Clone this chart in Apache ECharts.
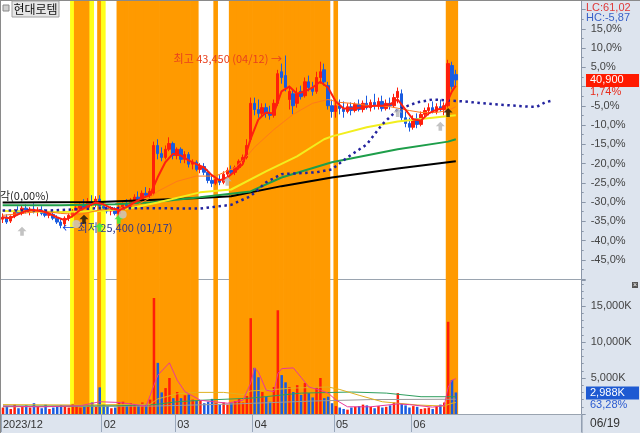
<!DOCTYPE html>
<html><head><meta charset="utf-8">
<script src="https://cdn.jsdelivr.net/npm/echarts@6/dist/echarts.min.js"></script>
<style>html,body{margin:0;padding:0;background:#fff}#c{width:640px;height:433px}</style>
</head><body><div id="c"></div>
<script>
// ---------------- DATA ----------------
const stockName = '현대로템';
const basePrice = 40200; // previous close = 0% of the axis
const dates = [
'2023/12/22','2023/12/26','2023/12/27','2023/12/28',
'2024/01/02','2024/01/03','2024/01/04','2024/01/05','2024/01/08','2024/01/09','2024/01/10','2024/01/11','2024/01/12','2024/01/15','2024/01/16','2024/01/17','2024/01/18','2024/01/19','2024/01/22','2024/01/23','2024/01/24','2024/01/25','2024/01/26','2024/01/29','2024/01/30','2024/01/31',
'2024/02/01','2024/02/02','2024/02/05','2024/02/06','2024/02/07','2024/02/08','2024/02/13','2024/02/14','2024/02/15','2024/02/16','2024/02/19','2024/02/20','2024/02/21','2024/02/22','2024/02/23','2024/02/26','2024/02/27','2024/02/28','2024/02/29',
'2024/03/04','2024/03/05','2024/03/06','2024/03/07','2024/03/08','2024/03/11','2024/03/12','2024/03/13','2024/03/14','2024/03/15','2024/03/18','2024/03/19','2024/03/20','2024/03/21','2024/03/22','2024/03/25','2024/03/26','2024/03/27','2024/03/28','2024/03/29',
'2024/04/01','2024/04/02','2024/04/03','2024/04/04','2024/04/05','2024/04/08','2024/04/09','2024/04/11','2024/04/12','2024/04/15','2024/04/16','2024/04/17','2024/04/18','2024/04/19','2024/04/22','2024/04/23','2024/04/24','2024/04/25','2024/04/26','2024/04/29','2024/04/30',
'2024/05/02','2024/05/03','2024/05/07','2024/05/08','2024/05/09','2024/05/10','2024/05/13','2024/05/14','2024/05/16','2024/05/17','2024/05/20','2024/05/21','2024/05/22','2024/05/23','2024/05/24','2024/05/27','2024/05/28','2024/05/29','2024/05/30','2024/05/31',
'2024/06/03','2024/06/04','2024/06/05','2024/06/07','2024/06/10','2024/06/11','2024/06/12','2024/06/13','2024/06/14','2024/06/17','2024/06/18','2024/06/19'
];
const futureSlots = 32;
const monthTicks = ['2023/12/22','2024/02/01','2024/03/04','2024/04/01','2024/05/02','2024/06/03'];
const monthTickText = ['2023/12','02','03','04','05','06'];

const openP = [
26350,26550,26150,26650,27200,26950,27500,27200,27400,27100,
27300,26950,26750,26850,26450,26050,25850,26450,26750,27200,
27500,27800,27600,28200,27900,28450,27700,27500,27200,27400,
26950,27600,27900,27700,28350,28650,28450,29050,28850,29050,
34050,33200,32800,33650,34250,33000,33650,32600,33100,32100,
32300,31550,31850,31250,30400,30100,30500,30200,31050,31450,
31250,31750,32400,32800,34700,38450,37800,37400,38000,37400,
37200,38450,41750,41350,38850,39450,38450,39700,39250,40700,
40100,39700,41150,41950,40300,38200,37600,38200,37900,37600,
38100,37700,38350,37800,38450,38000,38550,38200,38650,37900,
38450,38200,39050,39450,36950,36350,35950,36850,36250,37300,
37700,38000,37600,38100,37800,38200,42400,41450];
const highP = [
26950,26850,26750,27400,27700,27800,27900,27600,28000,27600,
27700,27400,27200,27100,26750,26350,26650,26950,27400,27700,
28000,28450,28550,28850,28750,28850,28100,27900,27700,27600,
27800,28100,28450,28550,28950,29250,29350,29700,29600,34450,
34700,33850,34050,34900,34450,33850,33850,33450,33350,32600,
32500,32200,32200,31550,30950,30700,30950,31350,31750,31950,
31950,32600,33100,34700,39050,39050,38850,38450,38450,38200,
38850,41950,42600,43450,40300,39900,40100,40300,41150,41350,
40700,41750,42800,42600,40700,38850,38650,38850,38650,38450,
38550,38550,38850,38750,39250,38850,39450,39050,39250,38850,
39050,39450,40100,39900,37600,36950,37200,37400,37600,38000,
38450,38650,38450,38850,38550,43000,42800,41950];
const lowP = [
25950,25850,25950,26450,26750,26750,26950,26750,26950,26650,
26750,26550,26450,26250,25850,25400,25600,26150,26550,26950,
27200,27400,27400,27700,27600,27400,27200,26950,26750,26750,
26750,27300,27500,27500,28000,28200,28200,28650,28550,28850,
32600,32400,32600,33450,32600,32600,32200,32200,31750,31550,
31350,31150,30950,30100,29700,29900,29900,30000,30700,31050,
30950,31550,31950,32600,34450,37200,36950,37100,36950,36750,
36950,38200,40500,39700,37800,37300,38000,38850,39050,39700,
39250,39450,40500,40300,37800,36950,36950,37300,36950,37400,
37200,37500,37600,37500,37800,37600,37800,37800,37600,37700,
37800,38000,38450,36550,35950,35500,35700,35850,36050,36950,
37200,37400,37300,37600,37200,38000,39900,40100];
const closeP = [
26550,26050,26650,27200,26950,27500,27200,27400,27100,27300,
26950,26750,26850,26450,26050,25700,26450,26750,27200,27500,
27800,27600,28200,27900,28450,27700,27500,27200,27400,26950,
27600,27900,27700,28350,28650,28450,29050,28850,29250,34050,
33200,32800,33650,34250,33000,33650,32600,33100,32100,32300,
31550,31850,31250,30400,30100,30500,30200,31050,31450,31250,
31750,32400,32800,34050,38450,37800,37400,38000,37400,37200,
38450,41550,41150,40100,39700,38200,39450,39150,40700,40100,
39700,41150,41750,40700,38200,37600,38200,37900,37600,38100,
37700,38350,37800,38450,38000,38550,38200,38650,37900,38450,
38200,39050,39700,36950,36350,35950,36850,36250,37300,37700,
38000,37600,38100,37800,38200,42600,40200,40900];
// volume in thousands of shares (K)
const volumeK = [
900,1100,700,1300,800,1000,1200,900,1500,1100,
800,1300,700,900,1000,1200,1100,900,1400,1100,
900,1000,1200,1600,1000,3700,1300,1100,800,900,
1600,1700,1200,1500,1300,1200,1600,1400,2000,16100,
7100,3000,3600,5000,2200,3050,2200,2600,2700,2000,
1800,1900,1500,1700,2100,1500,1300,1600,1300,1500,
1800,2100,1600,2500,13300,6400,5100,3050,2400,1700,
3750,14400,5400,4400,3750,3050,4000,2650,4300,2900,
2300,3750,5000,2200,2400,1500,1100,900,700,600,
900,1000,1100,1300,1200,1000,800,1100,900,1000,
1200,1600,2900,1400,1200,900,1100,1000,700,800,
900,700,1000,1300,1600,12800,4722,2988];
// highlighted signal periods: 1 = orange, 2 = yellow edge
const signalBand = [
0,0,0,0,0,0,0,0,0,0, 0,0,0,0,0,0,0,0,2,1,
1,1,1,2,0,1,2,0,0,0, 1,1,1,1,1,1,1,1,1,1,
1,1,1,1,1,1,1,1,1,1, 1,0,0,0,0,1,0,0,0,1,
1,1,1,1,1,1,1,1,1,1, 1,1,1,1,1,1,1,1,1,1,
1,1,1,1,1,0,1,0,0,0, 0,0,0,0,0,0,0,0,0,0,
0,0,0,0,0,0,0,0,0,0, 0,0,0,0,0,1,1,1];
// moving-average lines: [bar index, price]
const ma5Pts = [[0,26550],[2,26450],[4,26850],[6,27200],[8,27300],[10,27200],[12,26950],[14,26550],[16,26250],[18,26650],[20,27300],[22,27700],[24,28100],[26,27900],[28,27500],[30,27300],[32,27600],[34,28100],[36,28550],[38,28850],[40,30700],[42,32300],[44,33200],[46,33000],[48,32500],[50,32100],[52,31750],[54,30950],[56,30400],[58,30700],[60,31350],[62,32100],[64,34700],[66,36750],[68,37500],[70,37400],[72,39700],[74,40200],[76,39450],[78,39700],[80,40100],[82,40700],[84,40100],[86,38650],[88,37900],[90,37900],[92,38000],[94,38100],[96,38200],[98,38200],[100,38350],[102,38850],[104,37800],[106,36750],[108,36650],[110,37400],[112,37800],[114,37900],[116,39700],[117,40300]];
const ma20Pts = [[0,26750],[5,26950],[10,27200],[15,26950],[20,26850],[25,27300],[30,27500],[35,27900],[38,28550],[40,29250],[45,30300],[50,30850],[55,30850],[60,31750],[63,32900],[65,33850],[70,35700],[75,37300],[80,38450],[84,38850],[87,38550],[90,38450],[95,38200],[100,38100],[105,37700],[108,37500],[112,37500],[115,37700],[117,38100]];
const ma60Pts = [[0,27200],[15,27100],[25,27200],[33,27500],[40,28100],[51,29150],[59,29450],[68,31350],[76,32900],[83,34700],[85,35000],[94,35950],[102,36550],[111,36950],[117,37200]];
const ma120Pts = [[0,27800],[15,27800],[29,27900],[38,28100],[51,28650],[64,29250],[72,30700],[85,32300],[102,33650],[115,34450],[117,34700]];
const ma240Pts = [[0,28100],[25,28150],[38,28350],[51,28550],[59,28750],[72,29800],[85,30700],[102,31650],[117,32400]];
const leadSpanPts = [[0,27250],[12,27250],[25,27500],[38,27500],[51,27450],[59,27850],[64,28750],[68,30200],[72,31050],[81,31250],[85,31550],[89,32800],[94,34150],[98,36250],[102,37800],[107,38550],[111,38850],[119,38650],[127,38350],[136,38100],[138,38100],[140,38550],[142,38750]];
// volume moving averages [bar index, K]
const vma5Pts = [[0,1100],[10,1000],[20,1150],[25,1700],[30,1600],[37,1100],[39,4000],[40,5400],[43,7100],[45,4700],[47,3100],[51,1900],[58,1500],[62,1900],[64,4300],[65,6400],[66,5800],[68,3300],[70,3100],[71,5600],[72,6300],[75,6400],[77,5100],[79,3750],[82,3300],[84,2900],[86,1950],[89,1000],[95,1000],[102,1400],[105,1300],[111,950],[114,1200],[115,3700],[116,4700],[117,4900]];
const vma20Pts = [[0,1300],[20,1250],[38,1350],[40,2100],[45,2800],[50,3000],[57,3000],[62,2700],[64,3200],[70,3400],[75,3600],[84,3750],[87,3400],[92,2600],[98,1700],[107,1250],[114,1100],[116,1500],[117,1600]];
const vma60Pts = [[0,1100],[30,1150],[39,1300],[45,1700],[51,1900],[64,2200],[77,2900],[90,3050],[99,2900],[108,2400],[117,2400]];
const vma120Pts = [[0,1000],[39,1100],[60,1400],[80,1800],[95,2000],[117,2050]];
// signal markers: bar index, price, kind
const signalIdx   = [5, 19, 21, 25, 30, 31, 58, 102, 113, 115];
const signalPrice = [25100, 25850, 26350, 25500, 26350, 26850, 30300, 37500, 36050, 37500];
const signalKind  = ['gray','grayc','black','green','green','grayc','gray','gray','gray','black'];

// ---------------- CHART ----------------
const LEFT = 0.7, PLOT_W = 581;
const RED = '#ff1e0a', BLUE = '#1a5ce0';
const cats = dates.concat(Array.from({length: futureSlots}, (_, k) => '+' + (k + 1)));
const last = closeP.length - 1;
const fmtNum = v => v.toLocaleString('en-US');
const fmtDec = (v, d) => v.toFixed(d).replace('.', ',');
const isMonthTick = (idx, val) => monthTicks.indexOf(val) >= 0;

const candles = openP.map((o, i) => [o, closeP[i], lowP[i], highP[i]]);
const volData = volumeK.map((v, i) => ({value: v, itemStyle: {color: closeP[i] >= openP[i] ? RED : BLUE}}));
const bandColor = {1: '#ff9a00', 2: '#ffff1a'};
const bandData = signalBand.map(c => c ? {value: 1, itemStyle: {color: bandColor[c]}} : '-');

let hiIdx = 0, loIdx = 0;
highP.forEach((v, i) => { if (v > highP[hiIdx]) hiIdx = i; });
lowP.forEach((v, i) => { if (v < lowP[loIdx]) loIdx = i; });

const arrowUp = 'path://M5 0 L10 5 L7 5 L7 10 L3 10 L3 5 L0 5 Z';
const markerStyle = {
  gray: {symbol: arrowUp, color: '#b4b4b4'},
  grayc: {symbol: 'circle', color: '#c8c8c8'},
  black: {symbol: arrowUp, color: '#111'},
  green: {symbol: arrowUp, color: '#27f04a'}
};
const markers = signalIdx.map((ix, k) => ({
  value: [ix, signalPrice[k]],
  symbol: markerStyle[signalKind[k]].symbol,
  symbolSize: signalKind[k] === 'grayc' ? 8 : 9,
  itemStyle: {color: markerStyle[signalKind[k]].color}
}));

function pctLabel(v) {
  const p = Math.round((v / basePrice - 1) * 1000) / 10;
  if (Math.abs(p % 5) > 1e-6 || p > 15 || p < -45 || p === 0) return '';
  return fmtDec(p, 1) + '%';
}
function volLabel(v) {
  return (v > 0 && v % 5000 === 0 && v <= 15000) ? fmtNum(v) + 'K' : '';
}

function lineSeries(pts, color, width, xi, yi, extra) {
  return Object.assign({
    type: 'line', xAxisIndex: xi, yAxisIndex: yi, data: pts, showSymbol: false, symbol: 'none',
    lineStyle: {color: color, width: width}, silent: true, z: 3, animation: false
  }, extra || {});
}

const chart = echarts.init(document.getElementById('c'));
chart.setOption({
  animation: false,
  backgroundColor: '#ffffff',
  textStyle: {fontFamily: 'Liberation Sans, Arial, sans-serif'},
  grid: [
    {left: LEFT, width: PLOT_W, top: 0, height: 279},
    {left: LEFT, width: PLOT_W, top: 280, height: 134},
    {left: LEFT, width: PLOT_W, top: 0, height: 414}
  ],
  xAxis: [
    {type: 'category', gridIndex: 0, data: cats, boundaryGap: true,
     axisLine: {show: true, lineStyle: {color: '#9aa4b0'}}, axisTick: {show: false}, axisLabel: {show: false}, splitLine: {show: false}},
    {type: 'category', gridIndex: 1, data: cats, boundaryGap: true,
     axisLine: {show: true, lineStyle: {color: '#9aa4b0'}},
     axisTick: {show: true, interval: isMonthTick, length: 18, lineStyle: {color: '#9aa8bc'}},
     axisLabel: {interval: isMonthTick, formatter: v => monthTickText[monthTicks.indexOf(v)] || '', align: 'left', margin: 5, color: '#333', fontSize: 11},
     splitLine: {show: false}},
    {type: 'category', gridIndex: 2, data: cats, boundaryGap: true, show: false}
  ],
  yAxis: [
    {type: 'value', gridIndex: 0, position: 'right', min: 20100, max: 49245, interval: 2010,
     axisLine: {show: true, lineStyle: {color: '#8a96a8'}},
     axisTick: {show: true, length: 4, lineStyle: {color: '#8a96a8'}},
     minorTick: {show: true, splitNumber: 2, length: 2, lineStyle: {color: '#8a96a8'}},
     splitLine: {show: false},
     axisLabel: {formatter: pctLabel, color: '#444', fontSize: 11, margin: 9}},
    {type: 'value', gridIndex: 1, position: 'right', min: 0, max: 18600, interval: 5000,
     axisLine: {show: true, lineStyle: {color: '#8a96a8'}},
     axisTick: {show: true, length: 4, lineStyle: {color: '#8a96a8'}},
     minorTick: {show: true, splitNumber: 5, length: 2, lineStyle: {color: '#8a96a8'}},
     splitLine: {show: false},
     axisLabel: {formatter: volLabel, color: '#444', fontSize: 11, margin: 9}},
    {type: 'value', gridIndex: 2, min: 0, max: 1, show: false}
  ],
  series: [
    {type: 'bar', xAxisIndex: 2, yAxisIndex: 2, data: bandData, barWidth: 4.6, barGap: '-100%', silent: true, z: 0},
    {type: 'candlestick', xAxisIndex: 0, yAxisIndex: 0, data: candles, barWidth: 3, z: 2,
     itemStyle: {color: RED, color0: BLUE, borderColor: RED, borderColor0: BLUE, borderWidth: 1},
     markPoint: {
       symbol: 'circle', symbolSize: 1, itemStyle: {color: 'rgba(0,0,0,0)'}, silent: true,
       data: [
         {coord: [hiIdx, highP[hiIdx]], label: {show: true, position: 'left', distance: 3, offset: [0, 3],
           formatter: '최고 ' + fmtNum(highP[hiIdx]) + ' (' + dates[hiIdx].slice(5) + ') →',
           color: '#e8401e', fontSize: 11, fontFamily: 'Noto Sans CJK KR'}},
         {coord: [loIdx, lowP[loIdx]], label: {show: true, position: 'right', distance: 1, offset: [0, 0],
           formatter: '{a|←} {b|최저 ' + fmtNum(lowP[loIdx]) + ' (' + dates[loIdx].slice(5) + ')}',
           rich: {a: {color: '#1040e0', fontSize: 12, fontFamily: 'Noto Sans CJK KR'}, b: {color: '#2a3590', fontSize: 11, fontFamily: 'Noto Sans CJK KR'}}}}
       ]
     }},
    lineSeries(ma240Pts, '#000000', 2, 0, 0),
    lineSeries(ma120Pts, '#1e9e4a', 2, 0, 0),
    lineSeries(ma60Pts, '#f2ee1e', 2, 0, 0),
    lineSeries(ma20Pts, '#ff7a1a', 1, 0, 0),
    lineSeries(leadSpanPts, '#23239e', 2.5, 0, 0, {lineStyle: {color: '#23239e', width: 2.5, type: [2.5, 3.5]}}),
    lineSeries(ma5Pts, '#ff2010', 2, 0, 0, {z: 4}),
    {type: 'scatter', xAxisIndex: 0, yAxisIndex: 0, data: markers, z: 5, silent: true},
    {type: 'bar', xAxisIndex: 1, yAxisIndex: 1, data: volData, barWidth: '65%', z: 2},
    lineSeries(vma120Pts, '#9a9a9a', 1, 1, 1),
    lineSeries(vma60Pts, '#2e9e5e', 1, 1, 1),
    lineSeries(vma20Pts, '#e0b020', 1, 1, 1),
    lineSeries(vma5Pts, '#e8389a', 1, 1, 1)
  ]
});

// value boxes on the right axis, placed through the axis scales
const yP = chart.convertToPixel({yAxisIndex: 0}, closeP[last]);
const yV = chart.convertToPixel({yAxisIndex: 1}, volumeK[last]);
const chgPct = (closeP[last] / basePrice - 1) * 100;
const lcPct = (closeP[last] / lowP[loIdx] - 1) * 100;
const hcPct = (closeP[last] / highP[hiIdx] - 1) * 100;
const volPct = volumeK[last] / volumeK[last - 1] * 100;
const panel = '#dde4ee';
const F = 'Liberation Sans, Arial, sans-serif';
chart.setOption({
  graphic: [
    {type: 'rect', z: -100, shape: {x: 582, y: 0, width: 58, height: 415}, style: {fill: panel}},
    {type: 'rect', z: -100, shape: {x: 0, y: 415, width: 640, height: 18}, style: {fill: panel}},
    {type: 'line', z: 50, shape: {x1: 0.5, y1: 0, x2: 0.5, y2: 433}, style: {stroke: '#8a8a8a', lineWidth: 1}},
    {type: 'line', z: 50, shape: {x1: 0, y1: 0.5, x2: 640, y2: 0.5}, style: {stroke: '#8a8a8a', lineWidth: 1}},
    {type: 'line', z: 50, shape: {x1: 582, y1: 415, x2: 582, y2: 433}, style: {stroke: '#8a96a8', lineWidth: 1}},
    {type: 'rect', z: 50, shape: {x: 3, y: 5, width: 6, height: 6}, style: {fill: '#d0d0d0', stroke: '#888', lineWidth: 1}},
    {type: 'rect', z: 50, shape: {x: 12, y: 1, width: 47, height: 16}, style: {fill: '#e6e6e6', stroke: '#a0a0a0', lineWidth: 1}},
    {type: 'text', z: 51, style: {text: stockName, x: 35.5, y: 9.5, align: 'center', verticalAlign: 'middle', fill: '#111', font: '12px "Noto Sans CJK KR"'}},
    {type: 'text', z: 51, style: {text: '각(' + fmtDec(0, 2) + '%)', x: 0, y: 196, align: 'left', verticalAlign: 'middle', fill: '#222', font: '11px "Noto Sans CJK KR"'}},
    {type: 'text', z: 51, style: {text: 'LC:' + fmtDec(lcPct, 2), x: 586, y: 8, verticalAlign: 'middle', fill: '#e03a3a', font: '11px ' + F}},
    {type: 'text', z: 51, style: {text: 'HC:' + fmtDec(hcPct, 2), x: 586, y: 18, verticalAlign: 'middle', fill: '#3a62c8', font: '11px ' + F}},
    {type: 'rect', z: 51, shape: {x: 586, y: yP - 6, width: 53, height: 13}, style: {fill: '#ff1a00'}},
    {type: 'text', z: 52, style: {text: fmtNum(closeP[last]), x: 590, y: yP + 0.5, verticalAlign: 'middle', fill: '#fff', font: '11px ' + F}},
    {type: 'text', z: 52, style: {text: fmtDec(chgPct, 2) + '%', x: 590, y: yP + 12, verticalAlign: 'middle', fill: '#e82a1a', font: '11px ' + F}},
    {type: 'rect', z: 51, shape: {x: 586, y: yV - 6, width: 53, height: 13}, style: {fill: '#1e5ad2'}},
    {type: 'text', z: 52, style: {text: fmtNum(volumeK[last]) + 'K', x: 590, y: yV + 0.5, verticalAlign: 'middle', fill: '#fff', font: '11px ' + F}},
    {type: 'text', z: 52, style: {text: fmtDec(volPct, 2) + '%', x: 590, y: yV + 12, verticalAlign: 'middle', fill: '#2a5ad0', font: '11px ' + F}},
    {type: 'text', z: 52, style: {text: dates[last].slice(5), x: 590, y: 424, verticalAlign: 'middle', fill: '#333', font: '12px ' + F}},
    {type: 'rect', z: 52, shape: {x: 632, y: 282, width: 6, height: 6}, style: {fill: '#555'}},
    {type: 'text', z: 53, style: {text: '×', x: 635, y: 285, align: 'center', verticalAlign: 'middle', fill: '#fff', font: '7px ' + F}}
  ]
});
</script>
</body></html>
